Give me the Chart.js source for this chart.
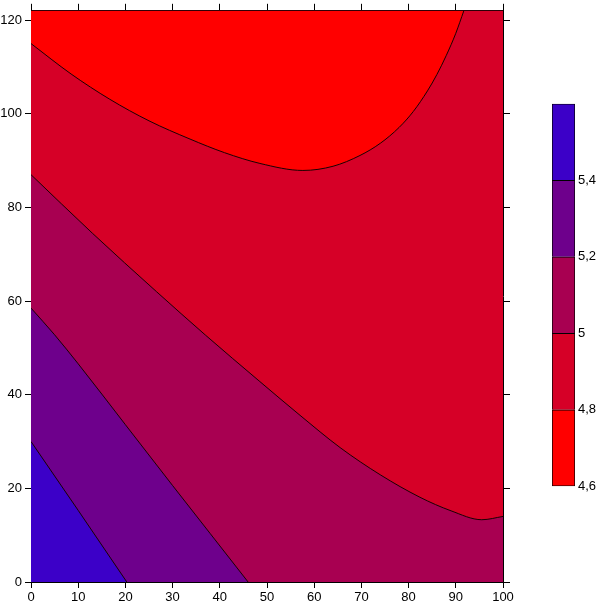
<!DOCTYPE html>
<html>
<head>
<meta charset="utf-8">
<script src="https://cdn.jsdelivr.net/npm/chart.js@4/dist/chart.umd.min.js"></script>
<style>
html,body{margin:0;padding:0;background:#fff;}
#wrap{position:relative;width:609px;height:608px;}
#main{position:absolute;left:0;top:0;}
#scale{position:absolute;left:552px;top:93px;}
</style>
</head>
<body>
<div id="wrap">
  <canvas id="main" width="609" height="608"></canvas>
  <canvas id="scale" width="57" height="404"></canvas>
</div>
<script>
// contour levels and band colours (lowest first)
const levels = [4.6, 4.8, 5.0, 5.2, 5.4, 5.6];
const bandColors = ['#FF0000', '#D60027', '#A80051', '#6E008C', '#3C00C8'];

// contour lines (x, y)
const c48x = [0, 8.5, 16.7, 25, 33.7, 41, 48.5, 57.6, 64, 69.7, 74, 78, 81, 84, 86, 88, 90, 91.7];
const c48y = [115, 108.5, 103.1, 98.5, 94.6, 91.7, 89.4, 87.9, 88.8, 91.1, 93.7, 97.1, 100.5, 104.9, 108.4, 112.5, 117.2, 122];

const c50x = [0, 13, 26.6, 37, 48.5, 57, 65.5, 74, 82.4, 89, 95.5, 100];
const c50y = [87, 74.5, 62, 52.7, 42.8, 35.6, 28.7, 22.9, 18.1, 15.2, 13.3, 14];

const c52x = [0, 5, 10, 20, 30, 38, 46];
const c52y = [58.5, 52.8, 46.6, 33.6, 20.6, 10.3, 0];

const c54x = [0, 10, 20.3];
const c54y = [30, 15.3, 0];

const xTicks = [0, 100, 10];
const yTicks = [0, 122, 20];

function pts(xs, ys){
  return xs.map((x,i)=>({x, y: ys[i]}));
}

const font = {family: '"Liberation Sans", Arial, sans-serif', size: 13};

// background = the 4.8..5 band
const plotBg = {
  id: 'plotBg',
  beforeDatasetsDraw(chart){
    const {ctx, chartArea: a} = chart;
    ctx.save();
    ctx.fillStyle = bandColors[1];
    ctx.fillRect(a.left, a.top, a.width, a.height);
    ctx.restore();
  }
};

function line(xs, ys, fill, color){
  return {
    data: pts(xs, ys),
    borderColor: '#1a0000',
    borderWidth: 1,
    backgroundColor: color,
    fill,
    pointRadius: 0,
    cubicInterpolationMode: 'monotone'
  };
}

const axisBase = {
  type: 'linear',
  z: 1,
  grid: {drawOnChartArea: false, drawTicks: true, color: '#000'},
  border: {display: true, color: '#000', width: 1},
};

new Chart(document.getElementById('main'), {
  type: 'line',
  data: {
    datasets: [
      line(c54x, c54y, 'start', bandColors[4]),
      line(c52x, c52y, 'start', bandColors[3]),
      line(c50x, c50y, 'start', bandColors[2]),
      line(c48x, c48y, 'end', bandColors[0]),
    ]
  },
  options: {
    responsive: false,
    animation: false,
    layout: {padding: {left: 0, top: 0, right: 99, bottom: 0}},
    plugins: {legend: {display: false}, tooltip: {enabled: false}},
    scales: {
      x: {...axisBase, position: 'bottom', min: xTicks[0], max: xTicks[1],
        grid: {...axisBase.grid, tickLength: 6},
        ticks: {stepSize: xTicks[2], includeBounds: false, padding: 2, color: '#000', font, maxRotation: 0},
        afterFit: s => { s.height = 26; }},
      x2: {...axisBase, position: 'top', min: xTicks[0], max: xTicks[1],
        grid: {...axisBase.grid, tickLength: 7},
        ticks: {stepSize: xTicks[2], includeBounds: false, display: false},
        afterFit: s => { s.height = 7; }},
      y: {...axisBase, position: 'left', min: yTicks[0], max: yTicks[1],
        grid: {...axisBase.grid, tickLength: 6},
        ticks: {stepSize: yTicks[2], includeBounds: false, padding: 3, color: '#000', font},
        afterFit: s => { s.width = 31; }},
      y2: {...axisBase, position: 'right', min: yTicks[0], max: yTicks[1],
        grid: {...axisBase.grid, tickLength: 7},
        ticks: {stepSize: yTicks[2], includeBounds: false, display: false},
        afterFit: s => { s.width = 7; }},
    }
  },
  plugins: [plotBg]
});

// colour scale
new Chart(document.getElementById('scale'), {
  type: 'bar',
  data: {
    labels: [''],
    datasets: bandColors.map((c,i)=>({
      data: [[levels[i], levels[i+1]]],
      backgroundColor: c,
      borderColor: '#000',
      borderWidth: 1,
      borderSkipped: i === 0 ? false : 'start',
      grouped: false,
      barPercentage: 1,
      categoryPercentage: 1
    }))
  },
  options: {
    responsive: false,
    animation: false,
    layout: {padding: {top: 10, bottom: 10, left: 0, right: 0}},
    plugins: {legend: {display: false}, tooltip: {enabled: false}},
    scales: {
      x: {display: false},
      y: {
        position: 'right', min: levels[0], max: levels[levels.length-1],
        grid: {display: false, drawTicks: false},
        border: {display: false},
        ticks: {
          stepSize: 0.2, includeBounds: false, padding: 3, color: '#000', font,
          callback: v => v > 5.5 ? '' : String(Number(v.toFixed(1))).replace('.', ',')
        },
        afterFit: s => { s.width = 34; }
      }
    }
  }
});
</script>
</body>
</html>
